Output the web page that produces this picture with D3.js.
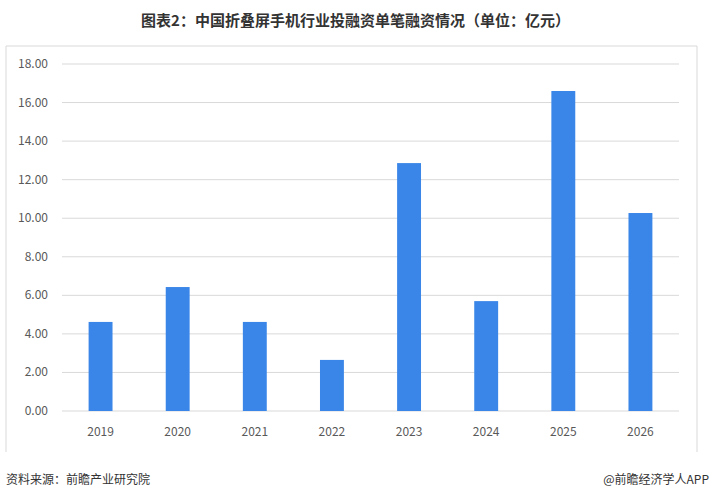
<!DOCTYPE html>
<html><head><meta charset="utf-8">
<script src="https://cdn.jsdelivr.net/npm/d3@7"></script>
<style>body{margin:0;background:#fff}</style></head>
<body><div id="chart"></div>
<script>
var years = ['2019','2020','2021','2022','2023','2024','2025','2026'];
var amounts = [4.62, 6.43, 4.62, 2.65, 12.86, 5.70, 16.60, 10.27];
var yTicks = [0,2,4,6,8,10,12,14,16,18];

var W = 711, H = 499;
var svg = d3.select('#chart').append('svg').attr('width', W).attr('height', H);
var font = '"Noto Sans CJK SC", "Microsoft YaHei", sans-serif';

svg.append('text').attr('x', W/2).attr('y', 26).attr('text-anchor', 'middle')
  .attr('font-family', font).attr('font-size', 15).attr('font-weight', 'bold').attr('fill', '#333')
  .text('图表2：中国折叠屏手机行业投融资单笔融资情况（单位：亿元）');

svg.append('path').attr('d', 'M6,452V46H697V452').attr('fill', 'none').attr('stroke', '#d9d9d9');

var x = d3.scaleBand().domain(years).range([62, 679]).paddingInner(0.69).paddingOuter(0.345);
var y = d3.scaleLinear().domain([0, 18]).range([411, 64]);

svg.append('g').selectAll('line').data(yTicks).enter().append('line')
  .attr('x1', 62).attr('x2', 679).attr('y1', function(d){return y(d);}).attr('y2', function(d){return y(d);})
  .attr('stroke', '#d9d9d9');

svg.append('g').selectAll('text').data(yTicks).enter().append('text')
  .attr('x', 48).attr('y', function(d){return y(d) + 4;}).attr('text-anchor', 'end')
  .attr('font-family', font).attr('font-size', 12).attr('fill', '#595959')
  .text(function(d){return d.toFixed(2);});

svg.append('g').selectAll('rect').data(amounts).enter().append('rect')
  .attr('x', function(d, i){return x(years[i]);}).attr('width', x.bandwidth())
  .attr('y', function(d){return y(d);}).attr('height', function(d){return y(0) - y(d);})
  .attr('fill', '#3a86e8');

svg.append('g').selectAll('text').data(years).enter().append('text')
  .attr('x', function(d){return x(d) + x.bandwidth()/2;}).attr('y', 436).attr('text-anchor', 'middle')
  .attr('font-family', font).attr('font-size', 12).attr('fill', '#595959')
  .text(function(d){return d;});

svg.append('text').attr('x', 6).attr('y', 484).attr('font-family', font).attr('font-size', 12).attr('fill', '#333')
  .text('资料来源：前瞻产业研究院');
svg.append('text').attr('x', 709).attr('y', 484).attr('text-anchor', 'end').attr('font-family', font).attr('font-size', 12).attr('fill', '#333')
  .text('@前瞻经济学人APP');
</script></body></html>
